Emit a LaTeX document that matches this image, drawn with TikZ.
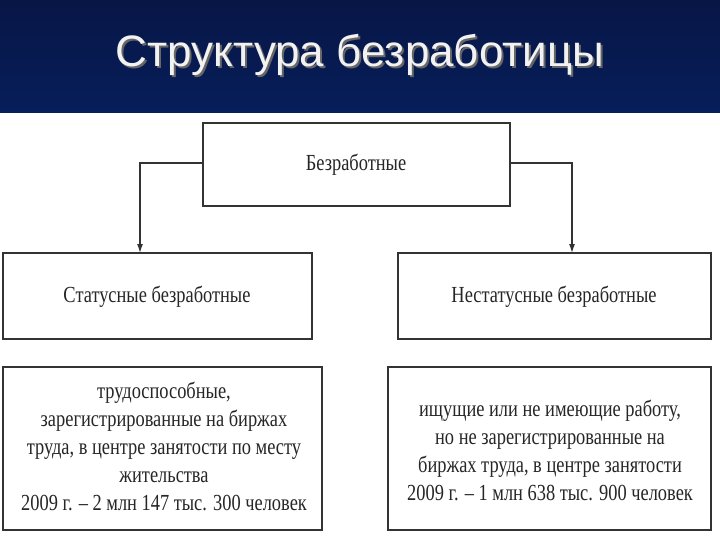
\documentclass[tikz,border=0pt]{standalone}
\usepackage{fontspec}
\usepackage{graphicx}
\usetikzlibrary{arrows.meta}
\setmainfont{Liberation Serif}
\newfontfamily\titlefont{Liberation Sans}
\newcommand{\sqz}[1]{\scalebox{0.8}[1]{\begin{tabular}{@{}c@{}}#1\end{tabular}}}
\begin{document}
\begin{tikzpicture}[x=1pt,y=-1pt,
  box/.style={draw=black!80,line width=1.8pt,inner sep=0pt},
  lbl/.style={font=\fontsize{23}{28}\selectfont,align=center,text=black!85,inner sep=0pt},
  arr/.style={draw=black!80,line width=1.2pt,-{Latex[length=9pt,width=6pt]}}]
\useasboundingbox (0,0) rectangle (720,540);
\fill[white] (0,0) rectangle (720,540);
\shade[top color={rgb,255:red,8;green,22;blue,70},bottom color={rgb,255:red,6;green,30;blue,90}] (0,0) rectangle (720,113);
\node[text=black!60,font=\titlefont\fontsize{44}{48}\selectfont] at (362,57) {Структура безработицы};
\node[text=black!5,font=\titlefont\fontsize{44}{48}\selectfont] (title) at (360,55) {Структура безработицы};
\draw[box] (203,123) rectangle (510,206);
\node[lbl] (top) at (356,165) {\sqz{Безработные}};
\draw[box] (3,253) rectangle (312,339);
\node[lbl] (st) at (157,297) {\sqz{Статусные безработные}};
\draw[box] (398,253) rectangle (711,339);
\node[lbl] (nst) at (554,297) {\sqz{Нестатусные безработные}};
\draw[box] (3,367) rectangle (322,530);
\node[lbl] (d1) at (164,449) {\sqz{трудоспособные,\\зарегистрированные на биржах\\труда, в центре занятости по месту\\жительства\\2009 г. -- 2 млн 147 тыс. 300 человек}};
\draw[box] (388,367) rectangle (711,530);
\node[lbl] (d2) at (550,453) {\sqz{ищущие или не имеющие работу,\\но не зарегистрированные на\\биржах труда, в центре занятости\\2009 г. -- 1 млн 638 тыс. 900 человек}};
\coordinate (l1) at (203,163);
\coordinate (r1) at (510,163);
\draw[arr] (l1) -| (140,253);
\draw[arr] (r1) -| (572,253);
\end{tikzpicture}
\end{document}
